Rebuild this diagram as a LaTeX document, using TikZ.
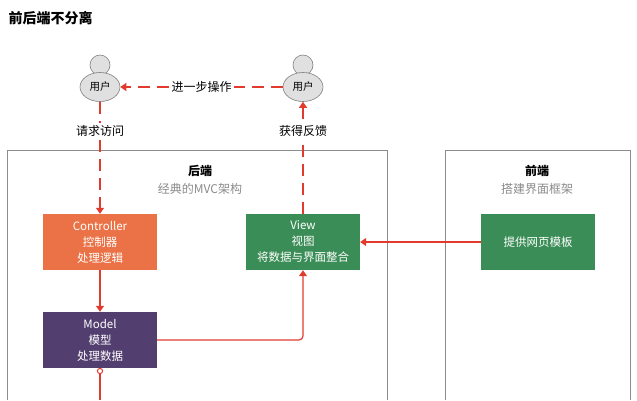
\documentclass[tikz,border=0pt]{standalone}
\usepackage{fontspec}
\setmainfont{Noto Sans CJK SC}
\usetikzlibrary{arrows.meta,shapes.geometric}
\definecolor{red1}{HTML}{E23B2E}
\definecolor{orng}{HTML}{EA7246}
\definecolor{grn}{HTML}{3A8D56}
\definecolor{purp}{HTML}{533F6F}
\definecolor{gtxt}{HTML}{8A8A8A}
\tikzset{
  box/.style={minimum width=114pt,minimum height=56pt,text=white,align=center,font=\fontsize{11.5}{16}\selectfont,inner sep=0pt},
  area/.style={draw=black!45,line width=0.6pt},
  rl/.style={draw=red1,line width=1.2pt},
  arr/.style={rl,-{Triangle[length=6pt,width=8pt]}},
  lbl/.style={font=\fontsize{12}{14}\selectfont,fill=white,inner sep=2pt},
}
\begin{document}
\begin{tikzpicture}[x=1pt,y=-1pt]
\useasboundingbox (0,0) rectangle (637,400);
\node[anchor=west,font=\bfseries\fontsize{14}{16}\selectfont] (title) at (5,18) {前后端不分离};
% areas
\draw[area] (7,400) -- (7,150) -- (387,150) -- (387,400);
\draw[area] (445,400) -- (445,150) -- (630,150) -- (630,400);
\node[font=\bfseries\fontsize{12}{14}\selectfont] (be) at (200,171) {后端};
\node[text=gtxt,font=\fontsize{12}{14}\selectfont] (bes) at (200,189) {经典的MVC架构};
\node[font=\bfseries\fontsize{12}{14}\selectfont] (fe) at (537,171) {前端};
\node[text=gtxt,font=\fontsize{12}{14}\selectfont] (fes) at (537,189) {搭建界面框架};
% users
\foreach \n/\x in {ul/100,ur/303}{
  \draw[fill=black!12,draw=black!50,line width=0.6pt] (\x,65) circle (10);
  \node[ellipse,draw=black!50,fill=black!12,line width=0.6pt,minimum width=40pt,minimum height=29pt,inner sep=0pt,font=\fontsize{10.5}{12}\selectfont] (\n) at (\x,87) {用户};
}
% boxes
\node[box,fill=orng] (ctrl) at (100,242) {Controller\\控制器\\处理逻辑};
\node[box,fill=grn] (view) at (303,242) {View\\视图\\将数据与界面整合};
\node[box,fill=grn] (tpl) at (538,242) {提供网页模板};
\node[box,fill=purp] (model) at (100,340) {Model\\模型\\处理数据};
% connectors
\draw[arr,dash pattern=on 12pt off 7pt] (ur.west) -- node[lbl]{进一步操作} (ul.east);
\draw[arr,dash pattern=on 12pt off 7pt] (ul.south) -- node[lbl,pos=0.26]{请求访问} (ctrl.north);
\draw[arr,dash pattern=on 12pt off 7pt] (view.north) -- node[lbl,pos=0.74]{获得反馈} (ur.south);
\draw[arr] (ctrl.south) -- (model.north);
\draw[arr,rounded corners=4pt] (model.east) -- (303,340) -- (view.south);
\draw[arr] (tpl.west) -- (view.east);
\coordinate (mb) at (100,400);
\draw[rl] (100,374) -- (mb);
\draw[draw=red1,line width=1pt,fill=white] (100,371) circle (2.6);
\end{tikzpicture}
\end{document}
